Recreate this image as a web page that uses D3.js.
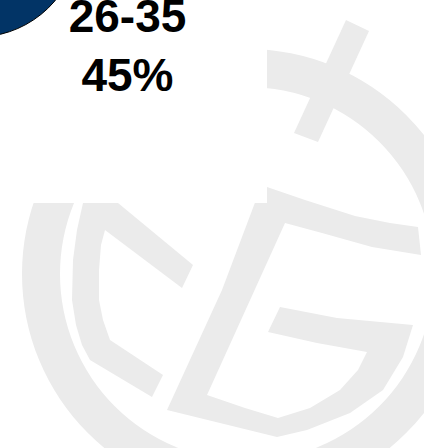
<!DOCTYPE html>
<html>
<head>
<meta charset="utf-8">
<script src="https://cdn.jsdelivr.net/npm/d3@7"></script>
<style>
  html, body { margin: 0; padding: 0; background: #fff; }
  svg { display: block; }
</style>
</head>
<body>
<svg width="424" height="448"></svg>
<script>
// only the 26-35 slice shows in this crop; the others lie off the frame
const ageGroups = ['18-25', '26-35', '36+'];
const shares = [12.5, 45, 42.5];
const sliceColors = ['#4f7fbf', '#023466', '#8fb0d8'];

(function () {

  const svg = d3.select('svg');
  const wm = '#ebebeb';

  // background watermark (cross + G in a ring)
  function drawWatermark() {
    const g = svg.append('g').attr('class', 'watermark');
    const poly = d3.line().curve(d3.curveLinearClosed);

    g.append('path')
      .attr('transform', 'translate(247,274)')
      .attr('d', d3.arc().innerRadius(187).outerRadius(225).startAngle(0).endAngle(2 * Math.PI)())
      .attr('fill', wm);

    const cross = [[346, 20], [369, 31], [318, 142], [294, 133]];
    const bracket = [
      [95, 185], [83, 203], [77, 230], [73, 260], [72, 300], [76, 325], [82, 345], [90, 360],
      [152, 397], [163, 375], [110, 340], [103, 320], [99, 300], [99, 270], [101, 245], [105, 230],
      [182, 288], [193, 265], [118, 203], [110, 185]
    ];
    const letter = [
      [262, 184], [267, 187], [305, 200], [355, 216], [390, 223], [418, 227], [421, 255],
      [372, 247], [322, 233], [285, 223], [207, 395], [245, 408], [278, 418], [310, 408],
      [340, 390], [358, 370], [367, 352], [317, 343], [268, 332], [280, 307], [337, 318],
      [413, 325], [403, 357], [383, 390], [350, 413], [307, 430], [277, 437], [167, 410],
      [222, 290]
    ];
    [cross, bracket, letter].forEach(pts => g.append('path').attr('d', poly(pts)).attr('fill', wm));

    // chart area background sits over the watermark
    g.append('rect').attr('x', 0).attr('y', 0).attr('width', 267).attr('height', 203).attr('fill', '#fff');
  }

  function drawPie() {
    const cx = -23, cy = -65, r = 102;
    const data = ageGroups.map((k, i) => ({ group: k, share: shares[i], color: sliceColors[i] }));

    const pie = d3.pie().sort(null).value(d => d.share);
    const arc = d3.arc().innerRadius(0).outerRadius(r);
    const labelArc = d3.arc().innerRadius(186).outerRadius(186);

    const g = svg.append('g').attr('transform', `translate(${cx},${cy})`);
    const slices = pie(data);

    g.selectAll('path.slice')
      .data(slices)
      .join('path')
      .attr('class', 'slice')
      .attr('d', arc)
      .attr('fill', d => d.data.color)
      .attr('stroke', '#000')
      .attr('stroke-width', 1);

    const labels = g.selectAll('text.label')
      .data(slices)
      .join('text')
      .attr('class', 'label')
      .attr('transform', d => `translate(${labelArc.centroid(d)})`)
      .attr('text-anchor', 'middle')
      .style('font-family', '"Liberation Sans", Arial, sans-serif')
      .style('font-weight', 'bold')
      .style('font-size', '46px')
      .attr('fill', '#000');

    labels.append('tspan').attr('x', 0).attr('y', -12).text(d => d.data.group);
    labels.append('tspan').attr('x', 0).attr('y', 47).text(d => d3.format('.0f')(d.data.share) + '%');
  }

  drawWatermark();
  drawPie();

})();
</script>
</body>
</html>
